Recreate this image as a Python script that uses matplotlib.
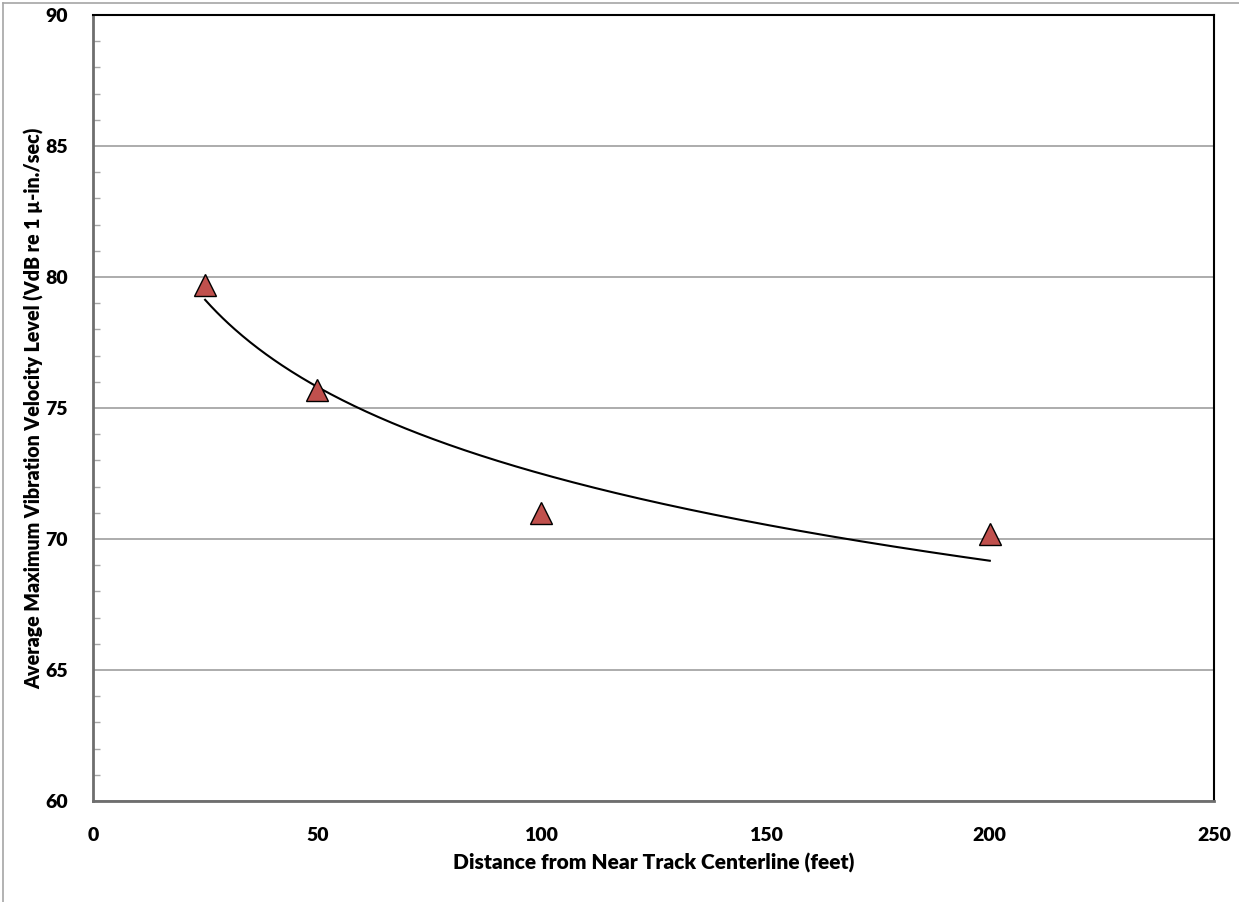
import numpy as np
import matplotlib
matplotlib.use("Agg")
import matplotlib.pyplot as plt
from matplotlib.lines import Line2D
from matplotlib.ticker import MultipleLocator

# Measured average maximum vibration levels by distance
distance_ft = [25, 50, 100, 200]
vdb_level = [79.7, 75.7, 71.0, 70.2]

x_ticks = [0, 50, 100, 150, 200, 250]
y_ticks = [60, 65, 70, 75, 80, 85, 90]

x_label = "Distance from Near Track Centerline (feet)"
y_label = "Average Maximum Vibration Velocity Level (VdB re 1 µ-in./sec)"

plt.rcParams["font.family"] = ["Lato", "DejaVu Sans"]
WEIGHT = "heavy"

W, H = 1239, 902
fig = plt.figure(figsize=(W / 100, H / 100), dpi=100)
ax = fig.add_axes([93 / W, 1 - 801 / H, (1214 - 93) / W, (801 - 15) / H])

# logarithmic trend line fitted to the measurements
b, a = np.polyfit(np.log(distance_ft), vdb_level, 1)
xs = np.linspace(min(distance_ft), max(distance_ft), 400)
ax.plot(xs, a + b * np.log(xs), color="black", lw=1.5, zorder=3)

ax.plot(distance_ft, vdb_level, linestyle="none", marker="^", ms=15.5,
        markerfacecolor="#c0504d", markeredgecolor="black", markeredgewidth=1.0,
        zorder=4)

ax.set_xlim(0, 250)
ax.set_ylim(60, 90)
ax.set_xticks(x_ticks)
ax.set_yticks(y_ticks)
ax.yaxis.set_minor_locator(MultipleLocator(1))
ax.grid(axis="y", which="major", color="#a6a6a6", lw=1.3, zorder=0)

ax.tick_params(axis="x", which="major", length=0, labelsize=14, pad=19)
ax.tick_params(axis="y", which="major", length=0, labelsize=14, pad=18)
ax.tick_params(axis="y", which="minor", direction="in", length=5,
               color="#a6a6a6", width=1, left=True)
for lbl in ax.get_xticklabels() + ax.get_yticklabels():
    lbl.set_fontweight(WEIGHT)

ax.spines["top"].set_color("black")
ax.spines["right"].set_color("black")
ax.spines["top"].set_linewidth(1.5)
ax.spines["right"].set_linewidth(1.5)
ax.spines["left"].set_color("#6e6e6e")
ax.spines["bottom"].set_color("#6e6e6e")
ax.spines["left"].set_linewidth(2)
ax.spines["bottom"].set_linewidth(2)

ax.set_xlabel(x_label, fontsize=15, fontweight=WEIGHT, labelpad=6)
ax.set_ylabel(y_label, fontsize=14.1, fontweight=WEIGHT, labelpad=1)

# outer chart frame (top and left edges)
fig.add_artist(Line2D([3 / W, 3 / W], [0, 1 - 3 / H], color="#a6a6a6", lw=1.2))
fig.add_artist(Line2D([3 / W, 1], [1 - 3 / H, 1 - 3 / H], color="#a6a6a6", lw=1.2))

fig.savefig("out.png", dpi=100)
